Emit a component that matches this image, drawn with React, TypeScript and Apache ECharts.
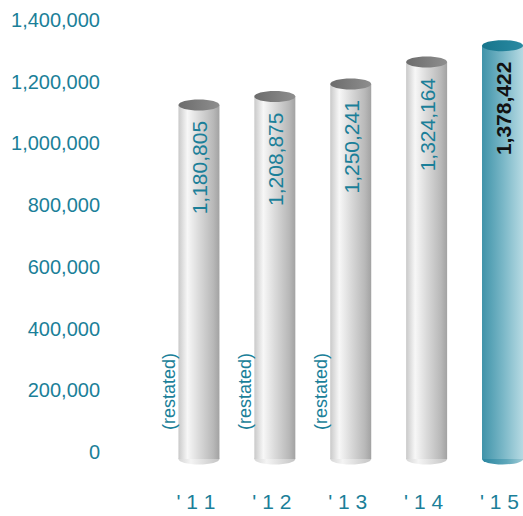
import React, { useEffect, useRef } from "react";
import * as echarts from "echarts";

const categories = ["'11", "'12", "'13", "'14", "'15"];
const values = [1180805, 1208875, 1250241, 1324164, 1378422];
const notes = ["(restated)", "(restated)", "(restated)", "", ""];
const highlightIndex = 4;
const axisMin = 0;
const axisMax = 1400000;
const axisInterval = 200000;

const TEAL = "#1b7f99";
const FONT = "'Liberation Sans', Arial, Helvetica, sans-serif";

export default function App() {
  const ref = useRef<HTMLDivElement | null>(null);

  useEffect(() => {
    document.body.style.margin = "0";
    if (!ref.current) return;
    const chart = echarts.init(ref.current, null, { renderer: "svg" });

    const grayBody = new echarts.graphic.LinearGradient(0, 0, 1, 0, [
      { offset: 0, color: "#c9c9c9" },
      { offset: 0.22, color: "#f7f7f7" },
      { offset: 0.5, color: "#dadada" },
      { offset: 0.85, color: "#b8b8b8" },
      { offset: 1, color: "#a2a2a2" },
    ]);
    const grayBottom = new echarts.graphic.LinearGradient(0, 0, 1, 0, [
      { offset: 0, color: "#d6d6d6" },
      { offset: 0.3, color: "#f4f4f4" },
      { offset: 1, color: "#c4c4c4" },
    ]);
    const grayTop = new echarts.graphic.LinearGradient(0, 0, 1, 0, [
      { offset: 0, color: "#6c6c6c" },
      { offset: 1, color: "#8e8e8e" },
    ]);
    const tealBody = new echarts.graphic.LinearGradient(0, 0, 1, 0, [
      { offset: 0, color: "#3f93a9" },
      { offset: 0.5, color: "#78b6c6" },
      { offset: 1, color: "#b6dae3" },
    ]);
    const tealBottom = new echarts.graphic.LinearGradient(0, 0, 1, 0, [
      { offset: 0, color: "#2a86a0" },
      { offset: 0.6, color: "#5ea7ba" },
      { offset: 1, color: "#9fcbd6" },
    ]);
    const tealTop = new echarts.graphic.LinearGradient(0, 0, 1, 0, [
      { offset: 0, color: "#17758c" },
      { offset: 1, color: "#2a8aa2" },
    ]);

    const option: any = {
      animation: false,
      grid: [
        { left: 108, top: 20, height: 432, width: 400 },
        { left: 161, top: 20, height: 439, right: 0 },
      ],
      xAxis: [
        { type: "category", gridIndex: 0, data: categories, show: false },
        { type: "value", gridIndex: 1, min: -0.5, max: 4.27, show: false },
      ],
      yAxis: [
        {
          type: "value",
          gridIndex: 0,
          min: axisMin,
          max: axisMax,
          interval: axisInterval,
          axisLine: { show: false },
          axisTick: { show: false },
          splitLine: { show: false },
          axisLabel: {
            color: TEAL,
            fontFamily: FONT,
            fontSize: 20,
            margin: 8,
            formatter: (v: number) => v.toLocaleString("en-US"),
          },
        },
        {
          type: "value",
          gridIndex: 1,
          min: 0,
          max: 1464000,
          show: false,
        },
      ],
      series: [
        {
          type: "custom",
          xAxisIndex: 1,
          yAxisIndex: 1,
          clip: false,
          data: values.map((v, i) => [i, v]),
          renderItem: (params: any, api: any) => {
            const i = api.value(0);
            const v = api.value(1);
            const topPt = api.coord([i, v]);
            const basePt = api.coord([i, 0]);
            const cx = topPt[0];
            const hw = 20.5;
            const ry = 5.5;
            const top = topPt[1];
            const base = basePt[1];
            const hl = i === highlightIndex;
            const children: any[] = [
              {
                type: "ellipse",
                shape: { cx, cy: base, rx: hw, ry },
                style: { fill: hl ? tealBottom : grayBottom },
              },
              {
                type: "rect",
                shape: { x: cx - hw, y: top, width: hw * 2, height: base - top },
                style: { fill: hl ? tealBody : grayBody },
              },
              {
                type: "ellipse",
                shape: { cx, cy: top, rx: hw, ry },
                style: { fill: hl ? tealTop : grayTop },
              },
              {
                type: "text",
                x: cx + 1,
                y: top + 16,
                rotation: Math.PI / 2,
                style: {
                  text: v.toLocaleString("en-US"),
                  align: "right",
                  verticalAlign: "middle",
                  fontFamily: FONT,
                  fontSize: 21,
                  fontWeight: hl ? "bold" : "normal",
                  fill: hl ? "#111111" : TEAL,
                },
              },
              {
                type: "text",
                x: cx - 3,
                y: base + 42,
                style: {
                  text: categories[i].split("").join(" "),
                  align: "center",
                  verticalAlign: "middle",
                  fontFamily: FONT,
                  fontSize: 21,
                  fill: TEAL,
                },
              },
            ];
            if (notes[i]) {
              children.push({
                type: "text",
                x: cx - 30,
                y: base - 29,
                rotation: Math.PI / 2,
                style: {
                  text: notes[i],
                  align: "left",
                  verticalAlign: "middle",
                  fontFamily: FONT,
                  fontSize: 18,
                  fill: TEAL,
                },
              });
            }
            return { type: "group", children };
          },
        },
      ],
    };

    chart.setOption(option);
    return () => chart.dispose();
  }, []);

  return (
    <div
      ref={ref}
      style={{ position: "absolute", left: 0, top: 0, width: 523, height: 516 }}
    />
  );
}
